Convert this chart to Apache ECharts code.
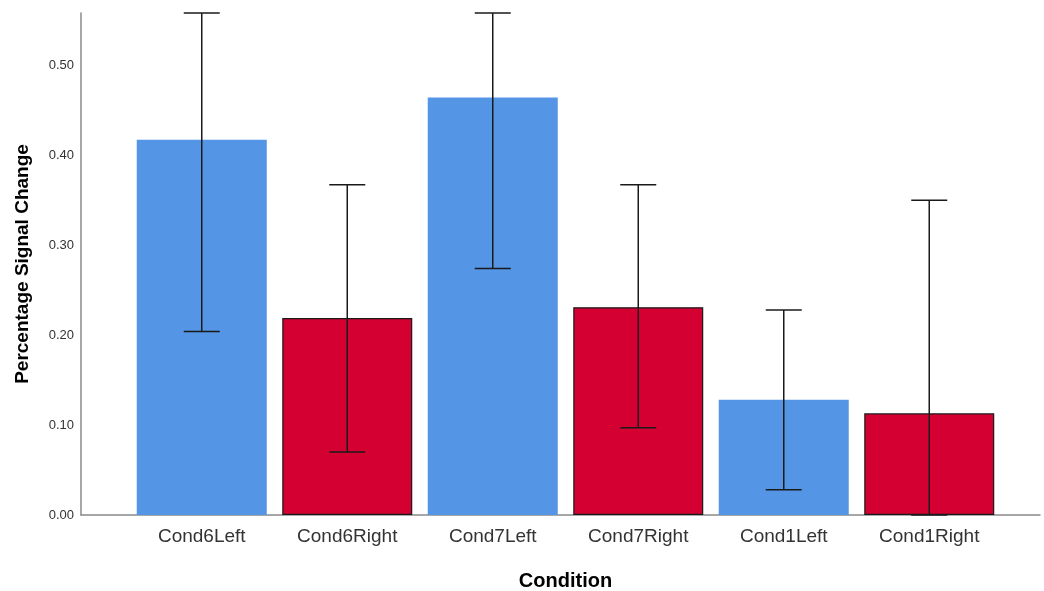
<!DOCTYPE html>
<html>
<head>
<meta charset="utf-8">
<script src="https://cdn.jsdelivr.net/npm/echarts@6/dist/echarts.min.js"></script>
<style>
html,body{margin:0;padding:0;background:#fff;}
#chart{width:1044px;height:591px;}
</style>
</head>
<body>
<div id="chart"></div>
<script>
const categories = ['Cond6Left', 'Cond6Right', 'Cond7Left', 'Cond7Right', 'Cond1Left', 'Cond1Right'];
const means = [0.417, 0.219, 0.464, 0.231, 0.128, 0.113];
const errLow = [0.204, 0.070, 0.274, 0.097, 0.028, 0.000];
const errHigh = [0.558, 0.367, 0.558, 0.367, 0.228, 0.350];
const sides = ['Left', 'Right', 'Left', 'Right', 'Left', 'Right'];
const yTicks = [0, 0.1, 0.2, 0.3, 0.4, 0.5];

const BLUE = '#5595e5';
const RED = '#d50032';

const chart = echarts.init(document.getElementById('chart'), null, {renderer: 'canvas'});

const barData = means.map((v, i) => ({
  value: v,
  itemStyle: sides[i] === 'Left'
    ? {color: BLUE, borderColor: '#6aa4ea', borderWidth: 0}
    : {color: RED, borderColor: '#1a1a1a', borderWidth: 1.2}
}));

const errData = categories.map((c, i) => [i, errLow[i], errHigh[i]]);

const YMAX = 0.558;

chart.setOption({
  animation: false,
  backgroundColor: '#fff',
  grid: [
    {left: 129, right: 42, top: 13, bottom: 76, outerBoundsMode: 'none', containLabel: false},
    {left: 81, right: 4, top: 13, bottom: 76, outerBoundsMode: 'none', containLabel: false}
  ],
  xAxis: [
    {
      type: 'category', gridIndex: 0, data: categories,
      axisLine: {show: false}, axisTick: {show: false},
      axisLabel: {color: '#333', fontSize: 19, fontFamily: 'Liberation Sans, Arial', margin: 12},
      name: 'Condition', nameLocation: 'middle', nameGap: 56,
      nameTextStyle: {fontSize: 20, fontWeight: 'bold', color: '#000', fontFamily: 'Liberation Sans, Arial'}
    },
    {
      type: 'value', gridIndex: 1, min: 0, max: 1,
      axisLine: {show: true, lineStyle: {color: '#8a8a8a', width: 1.5}},
      axisTick: {show: false}, axisLabel: {show: false}, splitLine: {show: false}
    }
  ],
  yAxis: [
    {
      type: 'value', gridIndex: 0, min: 0, max: YMAX,
      show: false, splitLine: {show: false}
    },
    {
      type: 'value', gridIndex: 1, min: 0, max: YMAX, interval: 0.1,
      axisLine: {show: true, lineStyle: {color: '#8a8a8a', width: 1.5}},
      axisTick: {show: false}, splitLine: {show: false},
      axisLabel: {
        color: '#333', fontSize: 13, fontFamily: 'Liberation Sans, Arial', margin: 7,
        showMaxLabel: false,
        formatter: v => yTicks.some(t => Math.abs(t - v) < 1e-6) ? v.toFixed(2) : ''
      },
      name: 'Percentage Signal Change', nameLocation: 'middle', nameGap: 49, nameRotate: 90,
      nameTextStyle: {fontSize: 19, fontWeight: 'bold', color: '#000', fontFamily: 'Liberation Sans, Arial'}
    }
  ],
  series: [
    {
      type: 'bar', xAxisIndex: 0, yAxisIndex: 0,
      data: barData, barWidth: 130, z: 2
    },
    {
      type: 'custom', xAxisIndex: 0, yAxisIndex: 0, z: 5,
      data: errData,
      renderItem: function (params, api) {
        const x = api.value(0);
        const lo = api.coord([x, api.value(1)]);
        const hi = api.coord([x, api.value(2)]);
        const hw = 18;
        const style = {stroke: '#1a1a1a', lineWidth: 1.5};
        return {
          type: 'group',
          children: [
            {type: 'line', shape: {x1: lo[0], y1: lo[1], x2: hi[0], y2: hi[1]}, style: style},
            {type: 'line', shape: {x1: hi[0] - hw, y1: hi[1], x2: hi[0] + hw, y2: hi[1]}, style: style},
            {type: 'line', shape: {x1: lo[0] - hw, y1: lo[1], x2: lo[0] + hw, y2: lo[1]}, style: style}
          ]
        };
      }
    }
  ]
});
</script>
</body>
</html>
